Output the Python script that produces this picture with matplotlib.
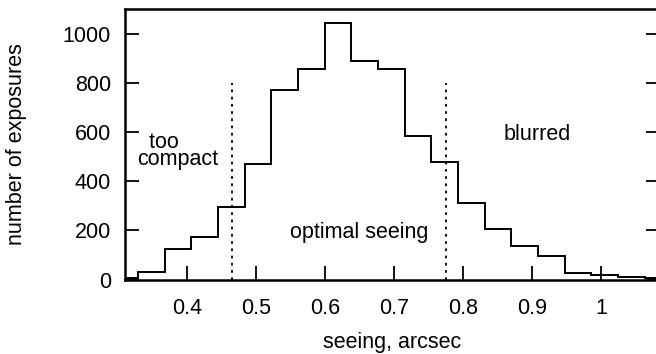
import numpy as np
import matplotlib
matplotlib.use("Agg")
import matplotlib.pyplot as plt

plt.rcParams['font.family'] = ['Liberation Sans', 'DejaVu Sans']

# seeing histogram: bin edges (arcsec) and number of exposures per bin
bin_start = 0.2903
bin_width = 0.03865
counts = [7, 29, 125, 172, 293, 468, 772, 858, 1043, 889, 858,
          582, 478, 312, 206, 136, 95, 25, 17, 9, 5]
edges = bin_start + bin_width * np.arange(len(counts) + 1)

# limits between the seeing regimes
cut_low = 0.465
cut_high = 0.775
cut_top = 800

xticks = [0.4, 0.5, 0.6, 0.7, 0.8, 0.9, 1.0]
xticklabels = ['0.4', '0.5', '0.6', '0.7', '0.8', '0.9', '1']
yticks = [0, 200, 400, 600, 800, 1000]

fs = 15.5

fig = plt.figure(figsize=(6.56, 3.54), dpi=100)
ax = fig.add_axes([125 / 656, 74.5 / 354, 534.75 / 656, 270.5 / 354])

ax.stairs(counts, edges, color='black', linewidth=1.4, baseline=None)
ax.vlines([cut_low, cut_high], 0, cut_top, colors='black',
          linestyles=(0, (1.5, 2.5)), linewidth=1.3)

ax.text(0.328, 464, '  too\ncompact', fontsize=fs, ha='left', va='baseline',
        multialignment='left', linespacing=0.75)
ax.text(0.649, 167, 'optimal seeing', fontsize=fs, ha='center', va='baseline')
ax.text(0.908, 566, 'blurred', fontsize=fs, ha='center', va='baseline')

ax.set_xlim(0.31, 1.085)
ax.set_ylim(0, 1100)
ax.set_xticks(xticks)
ax.set_xticklabels(xticklabels)
ax.set_yticks(yticks)
ax.tick_params(axis='both', direction='in', length=10, width=1.3,
               labelsize=fs)
ax.tick_params(axis='x', pad=13)
ax.tick_params(axis='y', right=True, pad=10)
for spine in ax.spines.values():
    spine.set_linewidth(1.8)

ax.set_xlabel('seeing, arcsec', fontsize=fs, labelpad=10)
ax.set_ylabel('number of exposures', fontsize=fs, labelpad=26)

fig.savefig('out.png', dpi=100)
